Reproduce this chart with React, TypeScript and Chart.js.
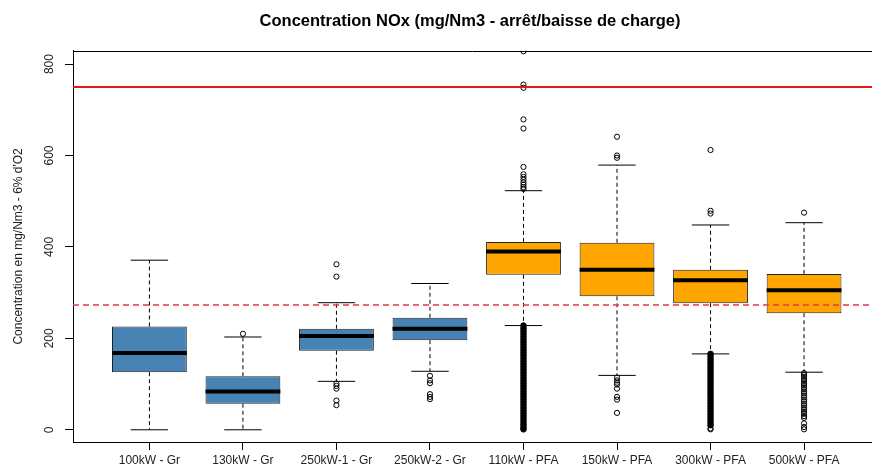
import React, { useEffect, useRef } from "react";
import { Chart, registerables } from "chart.js";

Chart.register(...registerables);

const categories = [
  "100kW - Gr",
  "130kW - Gr",
  "250kW-1 - Gr",
  "250kW-2 - Gr",
  "110kW - PFA",
  "150kW - PFA",
  "300kW - PFA",
  "500kW - PFA",
];

const boxColors = ["#4682B4", "#4682B4", "#4682B4", "#4682B4", "#FFA500", "#FFA500", "#FFA500", "#FFA500"];

const lowerWhisker = [0, 0, 106, 128, 228, 119, 166, 126];
const q1 = [126, 57, 173, 196, 339, 292, 277, 255];
const median = [168, 84, 205, 221, 390, 350, 327, 305];
const q3 = [226, 117, 221, 245, 411, 409, 350, 341];
const upperWhisker = [371, 203, 278, 320, 523, 579, 448, 453];

// sparse outliers (open circles)
const outliersOpen: number[][] = [
  [],
  [210],
  [362, 335, 101, 96, 90, 64, 54],
  [118, 108, 102, 78, 72, 67],
  [828, 755, 748, 679, 659, 575, 559, 553, 547, 541, 536, 531, 527],
  [641, 600, 595, 114, 108, 103, 99, 90, 72, 66, 37],
  [612, 479, 473, 3, 1],
  [475, 124, 120, 116, 111, 107, 102, 98, 93, 89, 84, 80, 75, 71, 66, 62, 57, 53, 48, 44, 39, 35, 30, 26, 14, 6, 1],
];

// dense outlier runs (appear as solid black bands)
const outliersDense: number[][] = [
  [],
  [],
  [],
  [],
  [228, 222, 216, 210, 204, 198, 192, 186, 180, 174, 168, 162, 156, 150, 144, 138, 132, 126, 120, 114, 108, 102, 96, 90, 84, 78, 72, 66, 60, 54, 48, 42, 36, 30, 24, 18, 12, 6, 1],
  [],
  [166, 160, 154, 148, 142, 136, 130, 124, 118, 112, 106, 100, 94, 88, 82, 76, 70, 64, 58, 52, 46, 40, 34, 28, 22, 16, 10],
  [],
];

const limitSolid = 750;
const limitDashed = 273;
const yTicks = [0, 200, 400, 600, 800];
const yMin = -26.7;
const yMax = 829;
const xMin = 0.183;
const xMax = 8.673;
const xLineEnd = 8.8;

const titleText = "Concentration NOx (mg/Nm3 - arrêt/baisse de charge)";
const yTitle = "Concentration en mg/Nm3 - 6% d'O2";

export default function App() {
  const ref = useRef<HTMLCanvasElement | null>(null);

  useEffect(() => {
    document.body.style.margin = "0";
    const canvas = ref.current;
    if (!canvas) return;

    const xs = categories.map((_, i) => i + 1);
    const boxes = xs.map((x, i) => ({ x, y: [q1[i], q3[i]] }));
    const whiskers: any[] = [];
    const caps: any[] = [];
    const meds: any[] = [];
    const openPts: any[] = [];
    const densePts: any[] = [];
    xs.forEach((x, i) => {
      whiskers.push({ x, y: q3[i] }, { x, y: upperWhisker[i] }, { x, y: null });
      whiskers.push({ x, y: q1[i] }, { x, y: lowerWhisker[i] }, { x, y: null });
      caps.push({ x: x - 0.2, y: upperWhisker[i] }, { x: x + 0.2, y: upperWhisker[i] }, { x, y: null });
      caps.push({ x: x - 0.2, y: lowerWhisker[i] }, { x: x + 0.2, y: lowerWhisker[i] }, { x, y: null });
      meds.push({ x: x - 0.4, y: median[i] }, { x: x + 0.4, y: median[i] }, { x, y: null });
      outliersOpen[i].forEach((v) => openPts.push({ x, y: v }));
      outliersDense[i].forEach((v) => densePts.push({ x, y: v }));
    });

    const frame = {
      id: "frame",
      afterDraw(chart: any) {
        const { ctx, chartArea } = chart;
        ctx.save();
        ctx.strokeStyle = "#000";
        ctx.lineWidth = 1;
        ctx.beginPath();
        ctx.moveTo(chartArea.left, Math.round(chartArea.top) + 0.5);
        ctx.lineTo(chart.width, Math.round(chartArea.top) + 0.5);
        ctx.moveTo(chartArea.left, Math.round(chartArea.bottom) + 0.5);
        ctx.lineTo(chart.width, Math.round(chartArea.bottom) + 0.5);
        ctx.stroke();
        ctx.restore();
      },
    };

    const chart = new Chart(canvas, {
      type: "bar",
      data: {
        datasets: [
          {
            type: "line",
            data: [{ x: xMin, y: limitSolid }, { x: xLineEnd, y: limitSolid }],
            borderColor: "#E0191E",
            borderWidth: 2,
            pointRadius: 0,
            clip: false,
            order: 0,
          } as any,
          {
            type: "line",
            data: [{ x: xMin, y: limitDashed }, { x: xLineEnd, y: limitDashed }],
            borderColor: "#E23A4A",
            borderWidth: 1.5,
            borderDash: [6, 4],
            pointRadius: 0,
            clip: false,
            order: 0,
          } as any,
          {
            type: "scatter",
            data: openPts,
            pointStyle: "circle",
            pointRadius: 2.6,
            borderColor: "#000",
            borderWidth: 1,
            backgroundColor: "rgba(0,0,0,0)",
            order: 1,
          } as any,
          {
            type: "scatter",
            data: densePts,
            pointStyle: "circle",
            pointRadius: 2.8,
            borderColor: "#000",
            borderWidth: 1,
            backgroundColor: "#000",
            order: 1,
          } as any,
          {
            type: "line",
            data: meds,
            borderColor: "#000",
            borderWidth: 4,
            borderCapStyle: "butt",
            pointRadius: 0,
            spanGaps: false,
            order: 2,
          } as any,
          {
            type: "bar",
            data: boxes,
            backgroundColor: boxColors,
            borderColor: "#222",
            borderWidth: 1,
            borderSkipped: false,
            barPercentage: 0.8,
            categoryPercentage: 1,
            order: 3,
          } as any,
          {
            type: "line",
            data: caps,
            borderColor: "#000",
            borderWidth: 1,
            pointRadius: 0,
            spanGaps: false,
            order: 4,
          } as any,
          {
            type: "line",
            data: whiskers,
            borderColor: "#000",
            borderWidth: 1,
            borderDash: [4, 3],
            pointRadius: 0,
            spanGaps: false,
            order: 5,
          } as any,
        ],
      },
      options: {
        responsive: false,
        animation: false,
        events: [],
        layout: { padding: { left: 0, right: 0, top: 0, bottom: 0 } },
        plugins: {
          legend: { display: false },
          tooltip: { enabled: false },
          title: {
            display: true,
            text: titleText,
            fullSize: false,
            color: "#000",
            font: { family: "Liberation Sans, Arial, sans-serif", size: 16.5, weight: "bold" },
            padding: { top: 12, bottom: 19 },
          },
        },
        scales: {
          x: {
            type: "linear",
            min: xMin,
            max: xMax,
            offset: false,
            afterBuildTicks: (s: any) => {
              s.ticks = categories.map((_, i) => ({ value: i + 1 }));
            },
            afterFit: (s: any) => {
              s.height = 26;
            },
            ticks: {
              autoSkip: false,
              maxRotation: 0,
              minRotation: 0,
              padding: 3,
              color: "#222",
              font: { family: "Liberation Sans, Arial, sans-serif", size: 12 },
              callback: (v: any) => categories[Math.round(Number(v)) - 1] ?? "",
            },
            grid: { offset: false, drawOnChartArea: false, drawTicks: true, tickLength: 8, color: "#000", tickColor: "#000" },
            border: { display: true, color: "#000", width: 1 },
          },
          y: {
            type: "linear",
            min: yMin,
            max: yMax,
            afterBuildTicks: (s: any) => {
              s.ticks = yTicks.map((v) => ({ value: v }));
            },
            afterFit: (s: any) => {
              s.width = 73;
            },
            ticks: {
              minRotation: 90,
              maxRotation: 90,
              crossAlign: "center",
              padding: 5,
              color: "#222",
              font: { family: "Liberation Sans, Arial, sans-serif", size: 12 },
            },
            title: {
              display: true,
              text: yTitle,
              color: "#222",
              font: { family: "Liberation Sans, Arial, sans-serif", size: 12 },
              padding: { top: 11, bottom: 0 },
            },
            grid: { drawOnChartArea: false, drawTicks: true, tickLength: 8, color: "#000", tickColor: "#000" },
            border: { display: true, color: "#000", width: 1 },
          },
        },
      } as any,
      plugins: [frame],
    });

    return () => chart.destroy();
  }, []);

  return (
    <div style={{ position: "fixed", left: 0, top: 0, width: 872, height: 468, background: "#fff" }}>
      <canvas ref={ref} width={872} height={468} style={{ width: 872, height: 468, display: "block" }} />
    </div>
  );
}
